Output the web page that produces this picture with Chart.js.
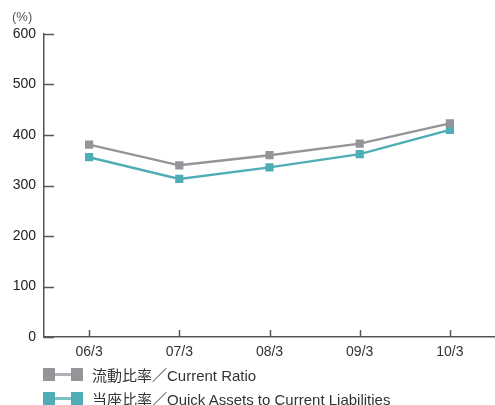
<!DOCTYPE html>
<html>
<head>
<meta charset="utf-8">
<script src="https://cdn.jsdelivr.net/npm/chart.js@4"></script>
<style>
  body { margin: 0; background: #fff; font-family: "Liberation Sans", "Noto Sans CJK JP", sans-serif; }
  #wrap { position: relative; width: 495px; height: 405px; overflow: hidden; }
  #unit { position: absolute; left: 12px; top: 9px; font-size: 13px; color: #555; }
  #legend { position: absolute; left: 43px; top: 362px; }
  .item { display: flex; align-items: center; height: 24px; font-size: 15px; color: #333; }
  .key { position: relative; width: 40px; height: 13px; margin-right: 9px; }
  .key span { position: absolute; top: 0; width: 12px; height: 13px; }
  .key i { position: absolute; left: 12px; top: 5px; width: 16px; height: 3px; opacity: 0.75; }
</style>
</head>
<body>
<div id="wrap">
  <canvas id="ratioChart" width="495" height="405"></canvas>
  <div id="unit">(%)</div>
  <div id="legend"></div>
</div>
<script>
// Data
const periods = ["06/3", "07/3", "08/3", "09/3", "10/3"];
const currentRatio = [381, 340, 360, 383, 423];
const quickRatio = [356, 313, 336, 362, 410];
const yTicks = [0, 100, 200, 300, 400, 500, 600];
const seriesNames = ["流動比率／Current Ratio", "当座比率／Quick Assets to Current Liabilities"];
const seriesColors = ["#949598", "#4fadb6"];

// Inner tick marks (y ticks point right, x ticks point up)
const innerTicks = {
  id: "innerTicks",
  afterDraw(chart) {
    const { ctx, chartArea, scales } = chart;
    ctx.save();
    ctx.strokeStyle = "#555";
    ctx.lineWidth = 1.5;
    scales.y.ticks.forEach((t, i) => {
      const y = Math.round(scales.y.getPixelForTick(i)) + 0.5;
      ctx.beginPath();
      ctx.moveTo(chartArea.left, y);
      ctx.lineTo(chartArea.left + 10, y);
      ctx.stroke();
    });
    scales.x.ticks.forEach((t, i) => {
      const x = Math.round(scales.x.getPixelForTick(i)) + 0.5;
      ctx.beginPath();
      ctx.moveTo(x, chartArea.bottom);
      ctx.lineTo(x, chartArea.bottom - 7);
      ctx.stroke();
    });
    ctx.restore();
  }
};

const ctx = document.getElementById("ratioChart");
new Chart(ctx, {
  type: "line",
  data: {
    labels: periods,
    datasets: [currentRatio, quickRatio].map((d, i) => ({
      label: seriesNames[i],
      data: d,
      borderColor: seriesColors[i],
      backgroundColor: seriesColors[i],
      borderWidth: 2.4,
      pointStyle: "rect",
      pointRadius: 5.8,
      pointBorderWidth: 0,
      tension: 0
    }))
  },
  options: {
    responsive: false,
    animation: false,
    layout: { autoPadding: false, padding: { top: 34, right: 0, left: 0, bottom: 0 } },
    plugins: { legend: { display: false }, tooltip: { enabled: false } },
    scales: {
      x: {
        offset: true,
        grid: { display: false, drawTicks: false },
        border: { color: "#555", width: 1.5 },
        ticks: { color: "#333", padding: 7, font: { size: 14, family: "Liberation Sans" } },
        afterFit(s) { s.height = 68; s.paddingLeft = 0; s.paddingRight = 0; }
      },
      y: {
        min: 0,
        max: 600,
        afterBuildTicks(s) { s.ticks = yTicks.map(v => ({ value: v })); },
        grid: { display: false, drawTicks: false },
        border: { color: "#555", width: 1.5 },
        ticks: { color: "#222", padding: 8, font: { size: 14, family: "Liberation Sans" } },
        afterFit(s) { s.width = 44; }
      }
    }
  },
  plugins: [innerTicks]
});

// Legend: square - line - square
const legend = document.getElementById("legend");
seriesNames.forEach((name, i) => {
  const c = seriesColors[i];
  legend.innerHTML += `<div class="item"><div class="key">` +
    `<span style="left:0;background:${c}"></span><i style="background:${c}"></i>` +
    `<span style="left:28px;background:${c}"></span></div>${name}</div>`;
});
</script>
</body>
</html>
